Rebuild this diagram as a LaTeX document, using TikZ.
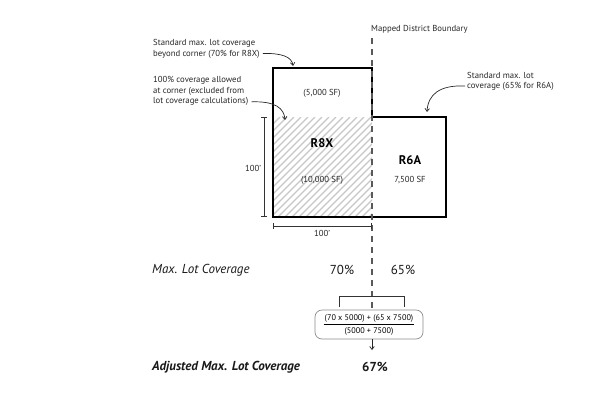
\documentclass[tikz,border=0pt]{standalone}
\usepackage{fontspec}
\setmainfont{PT Sans}
\usetikzlibrary{arrows.meta}
\begin{document}
\begin{tikzpicture}[x=1pt,y=-1pt,
  lbl/.style={font=\fontsize{8.7}{10.4}\selectfont, inner sep=0pt, text=black!85},
  big/.style={font=\fontsize{13}{14}\selectfont, inner sep=0pt, text=black!90},
  zone/.style={font=\fontsize{12.5}{14}\selectfont\bfseries, inner sep=0pt},
  outline/.style={line width=1.8pt, line join=miter},
  hatch/.style={black!22, line width=1.3pt},
  boundary/.style={black!65, line width=1.2pt, dash pattern=on 6pt off 5pt},
  dim/.style={black!80, line width=0.6pt, {Bar[width=6pt]}-{Bar[width=6pt]}},
  note/.style={black!85, line width=0.7pt, -{Straight Barb[length=3pt,width=4.5pt]}},
  formula/.style={draw=black!45, line width=0.7pt, rounded corners=7pt, minimum width=108pt, minimum height=29pt, inner sep=0.5pt, font=\fontsize{8.2}{9}\selectfont}
]
\useasboundingbox (0,0) rectangle (600,400);

% hatched corner area
\begin{scope}
  \clip (273,117) rectangle (372,217);
  \foreach \i in {166,173,...,380} \draw[hatch] (\i,217) -- (\i+100,117);
\end{scope}

% lot outline
\draw[outline] (273,68) -- (372,68) -- (372,117) -- (446,117) -- (446,217) -- (273,217) -- cycle;

% text nodes
\node[lbl, anchor=west] (mdb) at (371,29) {Mapped District Boundary};
\node[lbl, anchor=west, align=left] (a1) at (153,49) {Standard max. lot coverage\\beyond corner (70\% for R8X)};
\node[lbl, anchor=west, align=left] (a2) at (153,91.2) {100\% coverage allowed\\at corner (excluded from\\lot coverage calculations)};
\node[lbl, anchor=west, align=left] (a3) at (467,81.5) {Standard max. lot\\coverage (65\% for R6A)};

\node[lbl] (sf5) at (322,93) {(5,000 SF)};
\node[zone] (r8x) at (322,143) {R8X};
\node[lbl] (sf10) at (322,180) {(10,000 SF)};
\node[zone] (r6a) at (410,160) {R6A};
\node[lbl] (sf75) at (410,180) {7,500 SF};

\node[lbl] (d1) at (253,168) {100'};
\node[lbl] (d2) at (322,233) {100'};

\node[big, anchor=west, font=\fontsize{13}{14}\selectfont\itshape] (mlc) at (152,270) {Max. Lot Coverage};
\node[big] (p70) at (342,270) {70\%};
\node[big] (p65) at (403,270) {65\%};

\node[formula] (f) at (369,324.5) {%
  \renewcommand{\arraystretch}{1.45}\setlength{\tabcolsep}{1pt}%
  \begin{tabular}{c}(70 x 5000) + (65 x 7500)\\\hline (5000 + 7500)\end{tabular}};

\node[big, anchor=west, font=\fontsize{13}{14}\selectfont\bfseries\itshape] (amlc) at (152,367) {Adjusted Max. Lot Coverage};
\node[big, font=\fontsize{13}{14}\selectfont\bfseries] (p67) at (375,367) {67\%};

% boundary line
\coordinate (btop) at (372,38);
\draw[boundary] (btop) -- (372,310);

% dimension lines
\coordinate (dv1) at (264,117); \coordinate (dv2) at (264,217);
\draw[dim] (dv1) -- (dv2);
\coordinate (dh1) at (273,226); \coordinate (dh2) at (372,226);
\draw[dim] (dh1) -- (dh2);

% annotation arrows
\coordinate (t1) at (293,66);
\coordinate (t2) at (285,120);
\coordinate (t3) at (427,112);
\draw[note] ([shift={(3,-5)}]a1.south east) .. controls (282,53) and (292,57) .. (t1);
\draw[note] ([shift={(3,-4)}]a2.south east) .. controls (275,101) and (284,108) .. (t2);
\draw[note] ([shift={(-2,-5)}]a3.south west) .. controls (440,85) and (428,94) .. (t3);

% bracket
\coordinate (bl) at (339,296); \coordinate (br) at (404,296);
\draw[black!80, line width=0.7pt] ([yshift=-11]bl) -- (bl) -- (br) -- ([yshift=-11]br);

% result arrow
\coordinate (rend) at (372,350);
\draw[note] (f.south -| rend) -- (rend);
\end{tikzpicture}
\end{document}
